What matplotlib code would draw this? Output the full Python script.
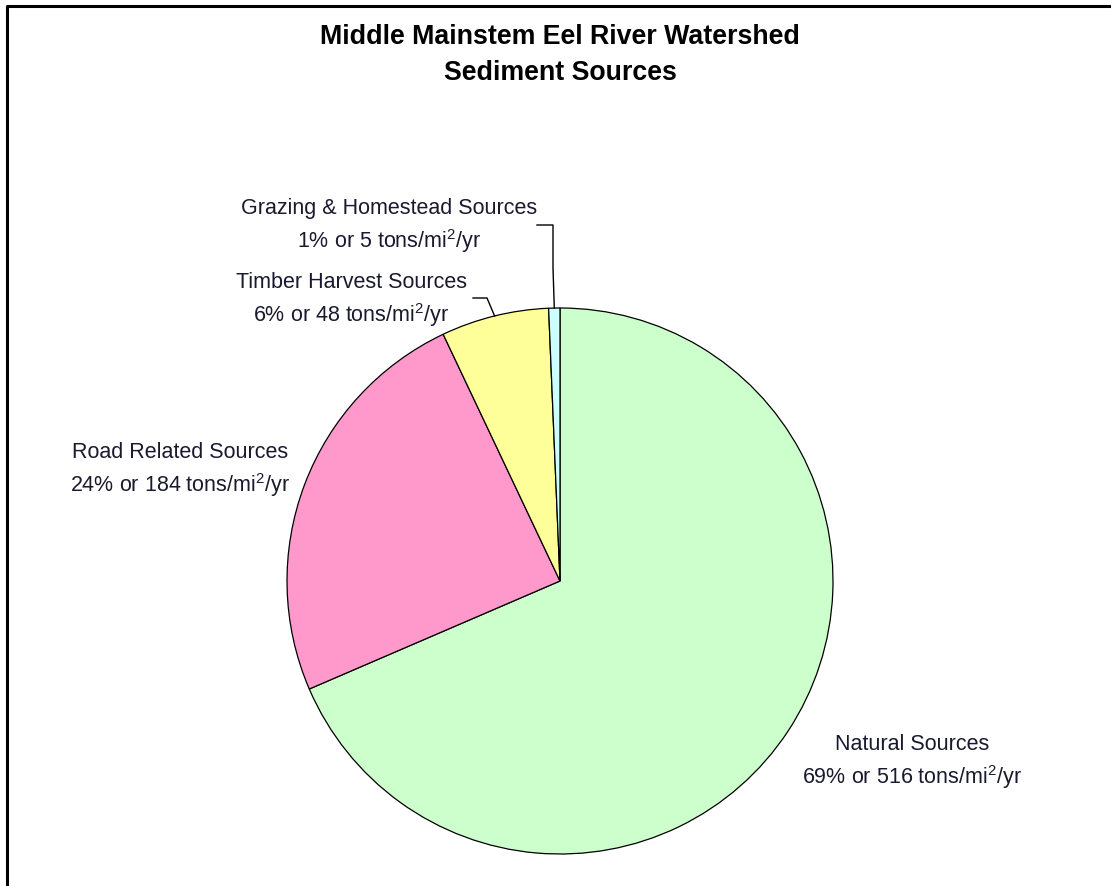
import numpy as np
import matplotlib
matplotlib.use('Agg')
import matplotlib.pyplot as plt

plt.rcParams['font.family'] = ['Liberation Sans', 'DejaVu Sans']
plt.rcParams['mathtext.fontset'] = 'custom'
plt.rcParams['mathtext.rm'] = 'Liberation Sans'
plt.rcParams['mathtext.it'] = 'Liberation Sans'

########################
title = 'Middle Mainstem Eel River Watershed\nSediment Sources'
sources = ['Natural Sources', 'Road Related Sources', 'Timber Harvest Sources',
           'Grazing & Homestead Sources']
tons = [516, 184, 48, 5]
percents = [69, 24, 6, 1]
colors = ['#CCFFCC', '#FF99CC', '#FFFF99', '#CCFFFF']
########################

W, H = 1111, 886
fig = plt.figure(figsize=(W / 100, H / 100), dpi=100)
ax = fig.add_axes([0, 0, 1, 1])

# pie in pixel coords (y up)
cx, cy, r = 560, H - 581, 273
wedges, _ = ax.pie(tons, colors=colors, startangle=90, counterclock=False,
                   center=(cx, cy), radius=r, frame=True,
                   wedgeprops=dict(edgecolor='black', linewidth=0.9))
ax.set_xlim(0, W)
ax.set_ylim(0, H)
ax.axis('off')

# frame (left + top)
ax.plot([7, 7, W], [0, H - 6, H - 6], color='black', lw=2.2, solid_capstyle='butt')

fig.text(0.504, 1 - 37 / H, title.split('\n')[0], ha='center', va='center',
         fontsize=19.3, fontweight='bold')
fig.text(0.504, 1 - 73 / H, title.split('\n')[1], ha='center', va='center',
         fontsize=19.3, fontweight='bold')

# label positions (center x, y of first line) in pixels
label_pos = [(912, 744), (180, 452), (351, 282), (389, 208)]
for name, p, t, (lx, ly) in zip(sources, percents, tons, label_pos):
    ax.text(lx, H - ly, name, ha='center', va='center', fontsize=15.5,
            color='#1a1a2e')
    ax.text(lx, H - ly - 33, f'{p}% or {t} tons/mi$^2$/yr', ha='center',
            va='center', fontsize=15.5, color='#1a1a2e')


def edge_point(w):
    mid = np.deg2rad((w.theta1 + w.theta2) / 2)
    return cx + r * np.cos(mid), cy + r * np.sin(mid)


# leader lines
ex, ey = edge_point(wedges[3])
ax.plot([537, 553, 553, ex], [H - 225, H - 225, H - 268, ey], color='black', lw=1)
ex, ey = edge_point(wedges[2])
ax.plot([473, 487, ex], [H - 298, H - 298, ey], color='black', lw=1)

fig.savefig('out.png', dpi=100)
